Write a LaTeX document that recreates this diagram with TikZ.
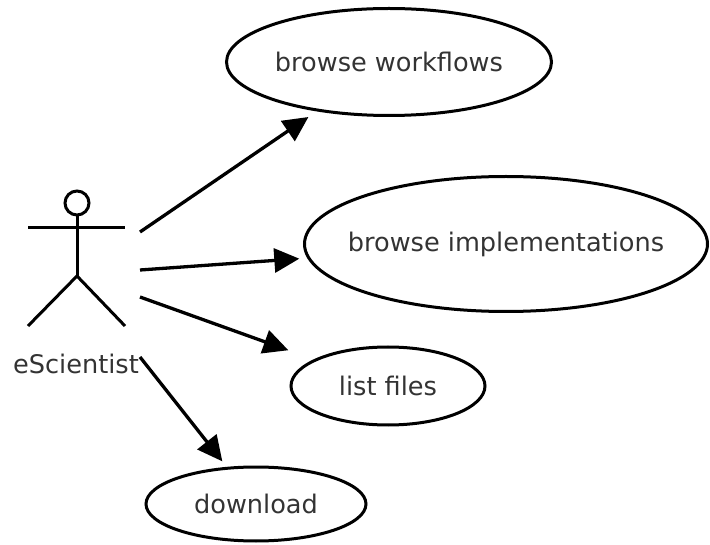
\documentclass[tikz,border=0pt]{standalone}
\usepackage{fontspec}
\setmainfont{DejaVu Sans}
\usetikzlibrary{shapes.geometric,arrows.meta}

\begin{document}
\begin{tikzpicture}[x=1pt, y=-1pt, line width=3pt,
		case_style/.style={ellipse,draw=black,inner sep=0pt},
		text_style/.style={font=\fontsize{25.6}{30}\selectfont,text=black!80},
		edge_style/.style={draw=black,line width=3.3pt,-{Triangle[length=25pt,width=24pt]}}]

		\useasboundingbox (0,0) rectangle (710,545);

		% actor
		\draw (77,203) circle (12);
		\draw (77,215) -- (77,276);
		\draw (28,228) -- (125,228);
		\draw (28,326) -- (77,276) -- (125,326);
		\node[text_style, anchor=base] (actor) at (76,374) {eScientist};

		% use cases
		\node[case_style, minimum width=325, minimum height=107, label={[text_style]center:browse workflows}] (wf) at (389,62) {};
		\node[case_style, minimum width=403, minimum height=135, label={[text_style]center:browse implementations}] (impl) at (506,244) {};
		\node[case_style, minimum width=194, minimum height=78, label={[text_style]center:list files}] (files) at (388,386) {};
		\node[case_style, minimum width=220, minimum height=74, label={[text_style]center:download}] (dl) at (256,504) {};

		\coordinate (s1) at (140,232);
		\coordinate (s2) at (140,270);
		\coordinate (s3) at (140,297);
		\coordinate (s4) at (140,357);

		\draw[edge_style, shorten >=10pt] (s1) -- (wf);
		\draw[edge_style, shorten >=8pt] (s2) -- (impl);
		\draw[edge_style, shorten >=27pt] (s3) -- (files);
		\draw[edge_style, shorten >=7pt] (s4) -- (dl);

\end{tikzpicture}
\end{document}
